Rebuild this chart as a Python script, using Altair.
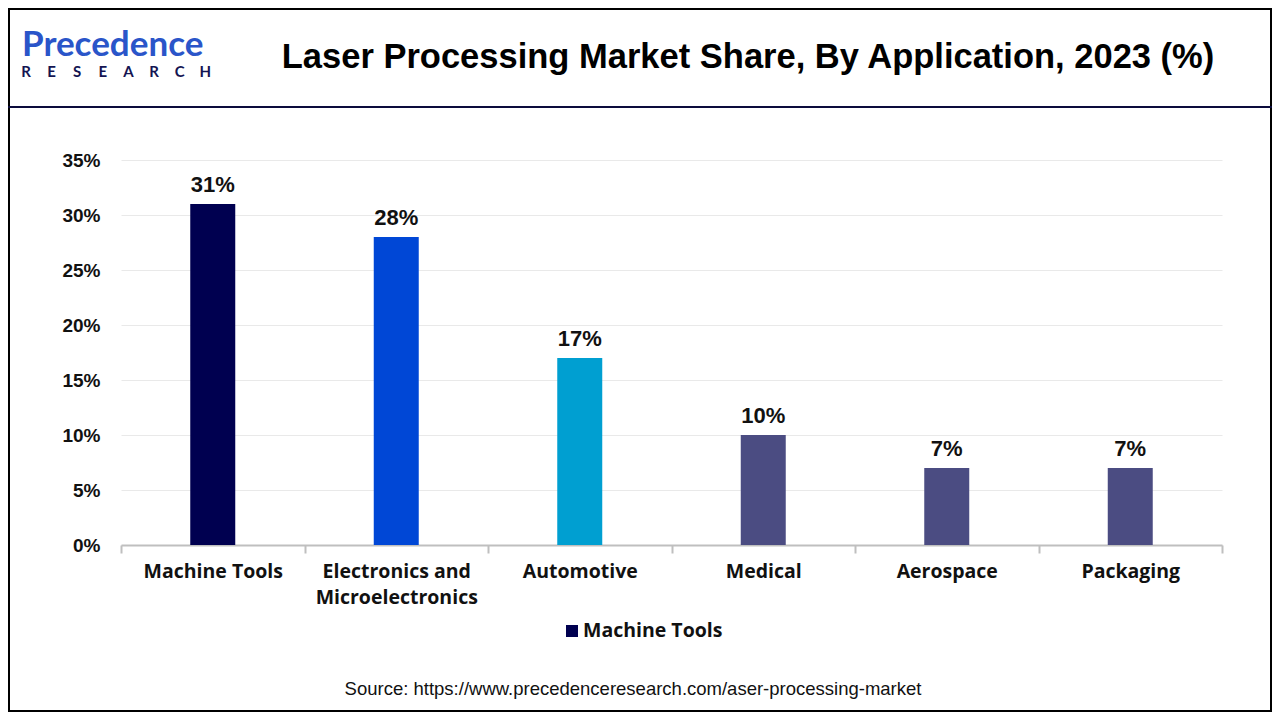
import altair as alt
import pandas as pd

categories = ["Machine Tools", "Electronics and Microelectronics", "Automotive",
              "Medical", "Aerospace", "Packaging"]
shares = [31, 28, 17, 10, 7, 7]
bar_colors = ["#000050", "#0047d6", "#009fd1", "#4b4c82", "#4b4c82", "#4b4c82"]
y_ticks = [0, 5, 10, 15, 20, 25, 30, 35]

title_text = "Laser Processing Market Share, By Application, 2023 (%)"
source_text = "Source: https://www.precedenceresearch.com/aser-processing-market"
legend_text = "Machine Tools"
logo_word = "Precedence"
logo_sub = list("RESEARCH")

df = pd.DataFrame({"category": categories, "share": shares,
                   "label": [f"{v}%" for v in shares]})

W, H = 1101, 385
PL, PT, PR, PB = 113, 152, 50, 167

x_enc = alt.X("category:N", sort=categories, title=None,
              scale=alt.Scale(paddingInner=0, paddingOuter=0),
              axis=alt.Axis(labelAngle=0, labelFont="Open Sans", labelFontWeight="bold",
                            labelFontSize=19.5, labelColor="#111111", labelPadding=9,
                            labelLineHeight=26, tickSize=8, tickColor="#bfbfbf",
                            tickWidth=2, domainColor="#bfbfbf", domainWidth=2,
                            tickBand="extent", grid=False,
                            labelExpr="datum.value == 'Electronics and Microelectronics' ? ['Electronics and', 'Microelectronics'] : datum.value"))
y_enc = alt.Y("share:Q", title=None,
              scale=alt.Scale(domain=[0, 35], nice=False),
              axis=alt.Axis(values=y_ticks, labelExpr="datum.value + '%'",
                            labelFont="Liberation Sans", labelFontWeight="bold",
                            labelFontSize=19, labelColor="#111111", labelPadding=21,
                            ticks=False, domain=False, gridColor="#e9e9e9",
                            gridWidth=1))

bars = alt.Chart(df).mark_bar(size=45).encode(
    x=x_enc, y=y_enc,
    color=alt.Color("category:N", scale=alt.Scale(domain=categories, range=bar_colors),
                    legend=None),
)

labels = alt.Chart(df).mark_text(dy=-19, fontSize=22, fontWeight="bold",
                                 font="Liberation Sans", color="#111111",
                                 baseline="middle").encode(
    x=alt.X("category:N", sort=categories), y="share:Q", text="label:N")

deco_df = pd.DataFrame({"k": [0]})
base = alt.Chart(deco_df)

border = base.mark_rect(filled=False, stroke="#000000", strokeWidth=2).encode(
    x=alt.value(-PL + 1), x2=alt.value(W + PR - 1),
    y=alt.value(-PT + 1), y2=alt.value(H + PB - 1))

header_line = base.mark_rule(color="#0c0c3c", strokeWidth=2).encode(
    x=alt.value(-PL), x2=alt.value(W + PR), y=alt.value(-53))

title = base.mark_text(text=title_text, font="Liberation Sans", fontSize=34.5,
                       fontWeight="bold", color="#000000", align="center",
                       baseline="middle").encode(x=alt.value(627), y=alt.value(-102))

logo1 = base.mark_text(text=logo_word, font="Lato", fontSize=35, fontWeight="bold",
                       color="#2a55c9", align="left", baseline="middle").encode(
    x=alt.value(-99), y=alt.value(-115))

sub_df = pd.DataFrame({"ch": logo_sub, "i": list(range(len(logo_sub)))})
logo2 = alt.Chart(sub_df).mark_text(font="Lato", fontSize=15, fontWeight="bold",
                                    color="#141452", align="center",
                                    baseline="middle").transform_calculate(
    px="-95 + datum.i * 25.6").encode(
    x=alt.X("px:Q", scale=None), y=alt.value(-88), text="ch:N")

legend_sq = base.mark_square(size=144, color="#000050", opacity=1).encode(
    x=alt.value(451), y=alt.value(471))
legend_tx = base.mark_text(text=legend_text, font="Open Sans", fontSize=19.5, fontWeight="bold",
                           color="#111111", align="left", baseline="middle").encode(
    x=alt.value(462), y=alt.value(471))

source = base.mark_text(text=source_text, font="Liberation Sans", fontSize=18.5,
                        color="#111111", align="center", baseline="middle").encode(
    x=alt.value(512), y=alt.value(529))

chart = alt.layer(bars, labels, border, header_line, title, logo1, logo2,
                  legend_sq, legend_tx, source).properties(
    width=W, height=H,
    autosize=alt.AutoSizeParams(type="none"),
    padding={"left": PL, "top": PT, "right": PR, "bottom": PB},
    background="#ffffff",
).configure_view(stroke=None)

chart.save("out.html", embed_options={"renderer": "svg", "actions": False})
